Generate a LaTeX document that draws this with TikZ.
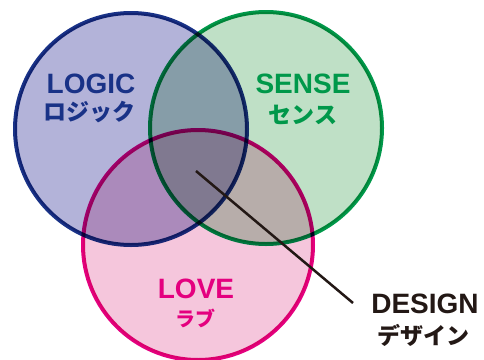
\documentclass[tikz,border=0pt]{standalone}
\usepackage{fontspec}
\newfontfamily\jp{Noto Sans CJK JP}
\newfontfamily\lat{Liberation Sans}
\definecolor{bluefill}{RGB}{179,179,217}
\definecolor{bluedark}{RGB}{25,50,135}
\definecolor{greenfill}{RGB}{191,224,198}
\definecolor{greendark}{RGB}{0,152,74}
\definecolor{pinkfill}{RGB}{245,198,220}
\definecolor{pinkdark}{RGB}{228,0,127}
\definecolor{ink}{RGB}{35,24,21}
\tikzset{
  venn/.style={circle, minimum size=232pt, inner sep=0pt, line width=4pt},
  big/.style={font=\lat\bfseries\fontsize{28}{28}\selectfont, inner sep=0pt},
  kana/.style={font=\jp\bfseries\fontsize{23}{23}\selectfont, inner sep=0pt},
}
\begin{document}
\begin{tikzpicture}[x=1pt,y=-1pt]
\useasboundingbox (0,0) rectangle (484,359);
\fill[white] (0,0) rectangle (484,359);
\begin{scope}[blend group=multiply]
  \node[venn, fill=bluefill, draw=bluedark] (logic) at (131,129) {};
  \node[venn, fill=greenfill, draw=greendark] (sense) at (266,128) {};
  \node[venn, fill=pinkfill, draw=pinkdark, minimum size=230pt] (love) at (198,245) {};
\end{scope}
\node[big, text=bluedark] (t1) at (91,84) {LOGIC};
\node[kana, text=bluedark] (k1) at (89,112) {ロジック};
\node[big, text=greendark] (t2) at (303,84) {SENSE};
\node[kana, text=greendark] (k2) at (303,115) {センス};
\node[big, text=pinkdark] (t3) at (196,289) {LOVE};
\node[kana, text=pinkdark, font=\jp\bfseries\fontsize{20}{20}\selectfont] (k3) at (195,318) {ラブ};
\node[big, text=ink] (t4) at (425,304) {DESIGN};
\node[kana, text=ink] (k4) at (423,335) {デザイン};
\coordinate (c) at (196,171);
\coordinate (e) at (353,303);
\draw[ink, line width=2.5pt] (c) -- (e);
\end{tikzpicture}
\end{document}
